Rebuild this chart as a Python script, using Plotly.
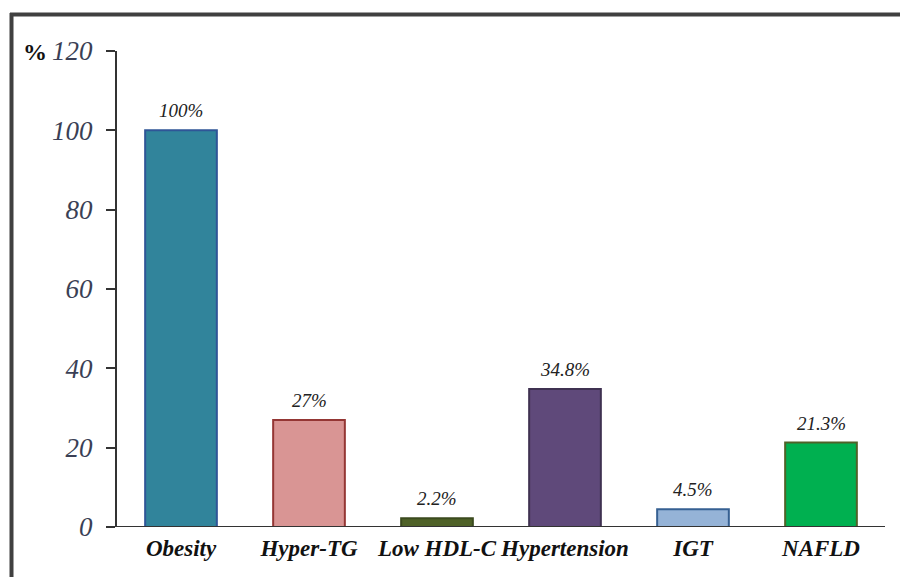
import plotly.graph_objects as go

categories = ["Obesity", "Hyper-TG", "Low HDL-C", "Hypertension", "IGT", "NAFLD"]
values = [100, 27, 2.2, 34.8, 4.5, 21.3]
value_labels = ["100%", "27%", "2.2%", "34.8%", "4.5%", "21.3%"]
fill_colors = ["#31849B", "#D99594", "#4F6228", "#5F497A", "#95B3D7", "#00B050"]
line_colors = ["#2F5597", "#943634", "#3B4A1E", "#3F3151", "#366092", "#4F6228"]
y_ticks = [0, 20, 40, 60, 80, 100, 120]

W, H = 900, 577
L, R, T, B = 117, 15, 51, 50
pw, ph = W - L - R, H - T - B

def px_x(px):
    return (px - L) / pw

def px_y(py):
    return (H - B - py) / ph

fig = go.Figure()
fig.add_trace(go.Bar(
    x=categories, y=values,
    marker=dict(color=fill_colors, line=dict(color=line_colors, width=2)),
    width=0.56,
))

annotations = [
    dict(x=c, y=v, text=t, xref="x", yref="y", showarrow=False,
         xanchor="center", yanchor="bottom", yshift=7,
         font=dict(family="Liberation Serif", size=19, color="#222222", style="italic"))
    for c, v, t in zip(categories, values, value_labels)
]
annotations.append(
    dict(text="%", xref="paper", yref="paper", x=px_x(35), y=px_y(52),
         showarrow=False, xanchor="center", yanchor="middle",
         font=dict(family="Liberation Serif", size=24, color="#111111", weight="bold"))
)

fig.update_layout(
    width=W, height=H,
    margin=dict(l=L, r=R, t=T, b=B),
    paper_bgcolor="white", plot_bgcolor="white",
    showlegend=False,
    xaxis=dict(
        range=[-0.5, 5.5], showgrid=False, zeroline=False, showline=False,
        ticks="", tickfont=dict(family="Liberation Serif", size=23, color="#111111",
                                style="italic", weight="bold"),
        ticklabelstandoff=5,
    ),
    yaxis=dict(
        range=[0, 120], tickvals=y_ticks, showgrid=False, zeroline=False,
        showline=True, linecolor="#333333", linewidth=2,
        ticks="outside", ticklen=9, tickwidth=2, tickcolor="#333333",
        tickfont=dict(family="Liberation Serif", size=27, color="#3A3F55", style="italic"),
        ticklabelstandoff=8,
    ),
    shapes=[
        dict(type="line", xref="paper", yref="y", x0=px_x(108), x1=1, y0=0, y1=0,
             line=dict(color="#333333", width=2)),
        dict(type="line", xref="paper", yref="paper", x0=px_x(10), x1=px_x(900),
             y0=px_y(14.5), y1=px_y(14.5), line=dict(color="#404040", width=4)),
        dict(type="line", xref="paper", yref="paper", x0=px_x(11.5), x1=px_x(11.5),
             y0=px_y(13), y1=px_y(577), line=dict(color="#404040", width=4)),
    ],
    annotations=annotations,
)

fig.write_html("out.html", config={"displayModeBar": False},
               post_script="document.body.style.margin='0';")
